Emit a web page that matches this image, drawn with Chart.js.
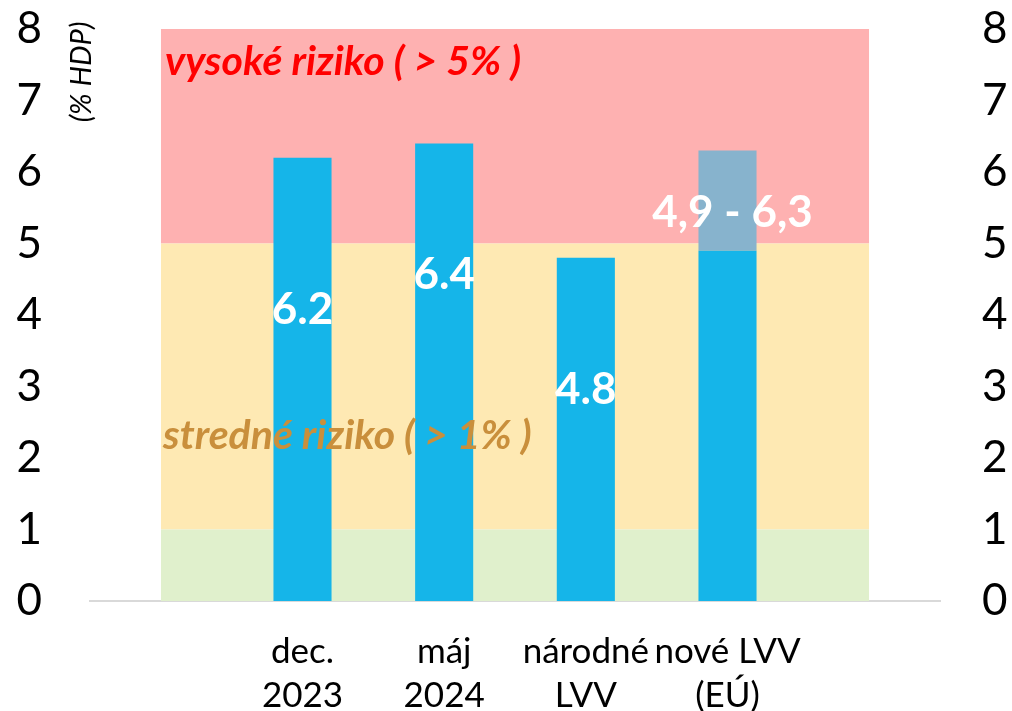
<!DOCTYPE html>
<html>
<head>
<meta charset="utf-8">
<script src="https://cdn.jsdelivr.net/npm/chart.js@4"></script>
<style>
  html, body { margin: 0; padding: 0; background: #fff; }
  #wrap { width: 1012px; height: 711px; }
</style>
</head>
<body>
<div id="wrap"><canvas id="chart" width="1012" height="711"></canvas></div>
<script>
// kategórie (prázdne na okrajoch, aby pásma siahali od stredu po stred)
const categories = ["", ["dec.", "2023"], ["máj", "2024"], ["národné", "LVV"], ["nové LVV", "(EÚ)"], ""];

const barValues = [null, 6.2, 6.4, 4.8, 4.9, null];
const rangeValues = [null, null, null, null, 1.4, null]; // 4,9 -> 6,3
const barLabels = ["", "6.2", "6.4", "4.8", "4,9 - 6,3", ""];

// rizikové pásma (stacked)
const bandLow = [1, 1, 1, 1, 1, 1];
const bandMid = [4, 4, 4, 4, 4, 4];
const bandHigh = [3, 3, 3, 3, 3, 3];

const yTicks = [0, 1, 2, 3, 4, 5, 6, 7, 8];

const FONT = "Lato, 'Open Sans', sans-serif";

// texty v grafe
const textPlugin = {
  id: "textPlugin",
  afterDatasetsDraw(chart) {
    const { ctx, scales } = chart;
    const x = scales.x, y = scales.y;
    ctx.save();

    // popisy pásiem
    ctx.textBaseline = "middle";
    ctx.textAlign = "left";
    ctx.font = "italic bold 41px " + FONT;
    ctx.fillStyle = "#ff0000";
    ctx.fillText("vysoké riziko ( > 5% )", 165, 62);
    ctx.fillStyle = "#c98f3c";
    ctx.fillText("stredné riziko ( > 1% )", 163, 436);

    // hodnoty na stĺpcoch
    const labelAt = [null, 4.07, 4.56, 2.95, 5.43, null];
    ctx.font = "bold 44px " + FONT;
    ctx.fillStyle = "#ffffff";
    ctx.textAlign = "center";
    barLabels.forEach((t, i) => {
      if (!t) return;
      const cx = x.getPixelForValue(i) + (i === 4 ? 5 : 0);
      ctx.fillText(t, cx, y.getPixelForValue(labelAt[i]));
    });

    // názov osi
    ctx.font = "italic 29px " + FONT;
    ctx.fillStyle = "#000";
    ctx.translate(82, 72);
    ctx.rotate(-Math.PI / 2);
    ctx.fillText("(% HDP)", 0, 0);
    ctx.restore();
  }
};

function fixY(width) {
  return function (scale) {
    scale.width = width;
    scale.paddingTop = 0;
    scale.paddingBottom = 0;
  };
}

const ctx = document.getElementById("chart").getContext("2d");
new Chart(ctx, {
  type: "bar",
  data: {
    labels: categories,
    datasets: [
      {
        label: "hodnota",
        data: barValues,
        backgroundColor: "#15b5e9",
        stack: "bars",
        order: 1,
        barPercentage: 0.41,
        categoryPercentage: 1
      },
      {
        label: "rozpätie",
        data: rangeValues,
        backgroundColor: "#87b3cd",
        stack: "bars",
        order: 1,
        barPercentage: 0.41,
        categoryPercentage: 1
      },
      {
        type: "line",
        label: "nízke",
        data: bandLow,
        backgroundColor: "#e0f0cc",
        fill: "origin",
        stack: "bands",
        order: 5,
        pointRadius: 0,
        borderWidth: 0
      },
      {
        type: "line",
        label: "stredné",
        data: bandMid,
        backgroundColor: "#fee9b3",
        fill: "-1",
        stack: "bands",
        order: 5,
        pointRadius: 0,
        borderWidth: 0
      },
      {
        type: "line",
        label: "vysoké",
        data: bandHigh,
        backgroundColor: "#feb1b1",
        fill: "-1",
        stack: "bands",
        order: 5,
        pointRadius: 0,
        borderWidth: 0
      }
    ]
  },
  options: {
    responsive: false,
    animation: false,
    layout: { padding: { top: 29, bottom: 0, left: 0, right: 0 } },
    plugins: {
      legend: { display: false },
      tooltip: { enabled: false }
    },
    scales: {
      x: {
        stacked: true,
        grid: { display: false },
        border: { display: true, color: "#d9d9d9", width: 2 },
        ticks: {
          color: "#000",
          font: { family: FONT, size: 35, lineHeight: 1.25 },
          padding: 21,
          maxRotation: 0,
          autoSkip: false
        },
        afterFit(scale) { scale.height = 110; }
      },
      y: {
        stacked: true,
        min: 0,
        max: 8,
        position: "left",
        grid: { display: false },
        border: { display: false },
        afterBuildTicks(scale) { scale.ticks = yTicks.map(v => ({ value: v })); },
        ticks: {
          color: "#000",
          font: { family: FONT, size: 44 },
          padding: 40
        },
        afterFit: fixY(90)
      },
      y2: {
        min: 0,
        max: 8,
        position: "right",
        grid: { display: false },
        border: { display: false },
        afterBuildTicks(scale) { scale.ticks = yTicks.map(v => ({ value: v })); },
        ticks: {
          color: "#000",
          font: { family: FONT, size: 44 },
          padding: 34
        },
        afterFit: fixY(72)
      }
    }
  },
  plugins: [textPlugin]
});
</script>
</body>
</html>
